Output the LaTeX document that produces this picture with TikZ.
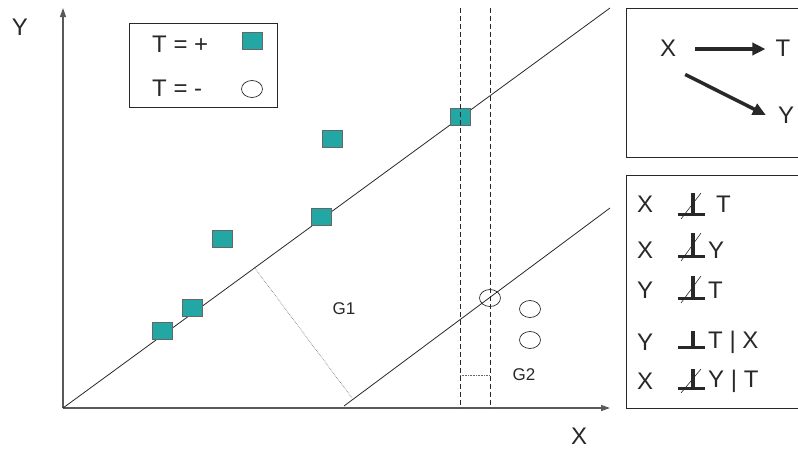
\documentclass[tikz,border=0pt]{standalone}
\usepackage{fontspec}
\setmainfont{Liberation Sans}
\usetikzlibrary{arrows.meta,shapes.geometric}
\definecolor{plusfill}{RGB}{35,167,165}
\definecolor{ink}{RGB}{40,40,40}
\begin{document}
\begin{tikzpicture}[x=1pt,y=-1pt]
\tikzstyle{every node}+=[inner sep=0pt,text=ink]
\tikzstyle{big}=[font=\fontsize{24}{28}\selectfont]
\tikzstyle{small}=[font=\fontsize{17}{20}\selectfont]
\tikzstyle{plus}=[rectangle,minimum width=20pt,minimum height=17pt,fill=plusfill,draw=gray!80!black,line width=0.8pt]
\tikzstyle{minus}=[ellipse,minimum width=21pt,minimum height=17pt,draw=ink,line width=0.7pt]
\tikzstyle{axis}=[draw=black!65,line width=1.3pt,-{Triangle[length=9pt,width=6pt]}]
\tikzstyle{causal}=[draw=ink,line width=3.5pt,-{Triangle[length=13pt,width=12pt]}]
\useasboundingbox (0,0) rectangle (798,448);
% axes
\coordinate (O) at (63,408);
\draw [axis] (O) -- (63,8);
\draw [axis] (O) -- (610,408);
\node [big] (ylab) at (20,27) {Y};
\node [big] (xlab) at (579,436) {X};
% the two group boundaries
\draw [ink,line width=0.8pt] (O) -- (610,8);
\draw [ink,line width=0.8pt] (344,406) -- (610,208);
\draw [black!60,densely dotted,line width=0.6pt] (254,267) -- (352,398);
% T = + units
\node [plus] (p1) at (162,331) {};
\node [plus] (p2) at (192,308) {};
\node [plus] (p3) at (222,239) {};
\node [plus] (p4) at (321,217) {};
\node [plus] (p5) at (332,139) {};
\node [plus] (p6) at (460,117) {};
% T = - units
\node [minus] (n1) at (490,298) {};
\node [minus] (n2) at (530,309) {};
\node [minus] (n3) at (530,340) {};
% the strip
\draw [ink,dash pattern=on 5pt off 3pt,line width=0.8pt] (460,8) -- (460,408);
\draw [ink,dash pattern=on 5pt off 3pt,line width=0.8pt] (490,8) -- (490,408);
\draw [black!60,densely dotted,line width=0.6pt] (460,375) -- (490,375);
\node [small] (g1) at (344,309) {G1};
\node [small] (g2) at (524,375) {G2};
% legend
\draw [ink,line width=0.8pt] (129,23) rectangle (277,107);
\node [big,anchor=west] (lp) at (152,44) {T = +};
\node [plus] (kp) at (252,41) {};
\node [big,anchor=west] (lm) at (152,88) {T = -};
\node [minus] (km) at (252,89) {};
% causal graph
\draw [ink,line width=0.8pt] (626,8) rectangle (805,157);
\node [big] (X) at (668,48) {X};
\node [big] (T) at (783,48) {T};
\node [big] (Y) at (786,115) {Y};
\draw [causal] ([shift={(19,1)}]X.east) -- ([shift={(-10,1)}]T.west);
\draw [causal] ([shift={(9,18)}]X.south east) -- ([shift={(-12,0)}]Y.west);
% independence statements
\draw [ink,line width=0.8pt] (626,175) rectangle (805,408);
\foreach \i/\y/\t/\s/\a/\b in {1/204/193/214.5/X/\hspace{8pt}T, 2/250/233/256.5/X/Y, 3/290/276/298.5/Y/T, 4/342/331/347/Y/T | X, 5/381/369/388.5/X/Y | T}{
  \node [big] (l\i) at (645,\y) {\a};
  \node [big,anchor=west] (r\i) at (708,\y) {\b};
  \draw [ink,line width=3pt] (678,\s) -- (705,\s);
  \draw [ink,line width=4.2pt] (693,\s) -- (693,\t);
}
\foreach \s/\t in {214.5/193,256.5/233,298.5/276,388.5/369}
  \draw [ink,line width=0.6pt] (681,\s+4.5) -- (701,\t);
\end{tikzpicture}
\end{document}
